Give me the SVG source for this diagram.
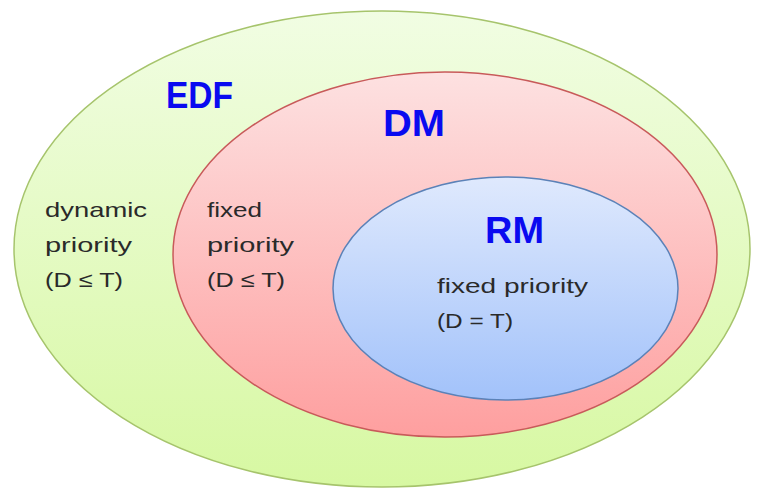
<svg xmlns="http://www.w3.org/2000/svg" width="758" height="499" viewBox="0 0 758 499">
<defs>
<linearGradient id="gGreen" x1="0" y1="0" x2="0" y2="1">
<stop offset="0" stop-color="#f1fde3"/>
<stop offset="1" stop-color="#d7f8a2"/>
</linearGradient>
<linearGradient id="gRed" x1="0" y1="0" x2="0" y2="1">
<stop offset="0" stop-color="#fde1e1"/>
<stop offset="1" stop-color="#fe9f9f"/>
</linearGradient>
<linearGradient id="gBlue" x1="0" y1="0" x2="0" y2="1">
<stop offset="0" stop-color="#dfe9fd"/>
<stop offset="1" stop-color="#a2c2fa"/>
</linearGradient>
</defs>
<style>
.title{font-family:"Liberation Sans",Arial,sans-serif;font-weight:bold;font-size:36px;fill:#0a0af0}
.lbl{font-family:"Liberation Sans",Arial,sans-serif;font-size:21px;fill:#2a2a2a}
</style>
<rect width="758" height="499" fill="#ffffff"/>
<g id="edf">
<ellipse cx="382" cy="249" rx="368" ry="238" fill="url(#gGreen)" stroke="#a6c46c" stroke-width="1.5"/>
<text class="title" x="166" y="108" textLength="67" lengthAdjust="spacingAndGlyphs">EDF</text>
<text class="lbl" x="45" y="217" textLength="102" lengthAdjust="spacingAndGlyphs">dynamic</text>
<text class="lbl" x="45" y="252" textLength="87" lengthAdjust="spacingAndGlyphs">priority</text>
<text class="lbl" x="45" y="287" textLength="78" lengthAdjust="spacingAndGlyphs">(D ≤ T)</text>
</g>
<g id="dm">
<ellipse cx="445" cy="254.5" rx="272" ry="182.5" fill="url(#gRed)" stroke="#c85a5a" stroke-width="1.5"/>
<text class="title" x="383" y="136" textLength="62" lengthAdjust="spacingAndGlyphs">DM</text>
<text class="lbl" x="207" y="217" textLength="55" lengthAdjust="spacingAndGlyphs">fixed</text>
<text class="lbl" x="207" y="252" textLength="87" lengthAdjust="spacingAndGlyphs">priority</text>
<text class="lbl" x="207" y="287" textLength="78" lengthAdjust="spacingAndGlyphs">(D ≤ T)</text>
</g>
<g id="rm">
<ellipse cx="505.5" cy="288.5" rx="172.5" ry="111.5" fill="url(#gBlue)" stroke="#5b82b8" stroke-width="1.5"/>
<text class="title" x="485" y="243" textLength="59" lengthAdjust="spacingAndGlyphs">RM</text>
<text class="lbl" x="437" y="293" textLength="151" lengthAdjust="spacingAndGlyphs">fixed priority</text>
<text class="lbl" x="437" y="328" textLength="76" lengthAdjust="spacingAndGlyphs">(D = T)</text>
</g>
<g id="connectors"/>
</svg>
